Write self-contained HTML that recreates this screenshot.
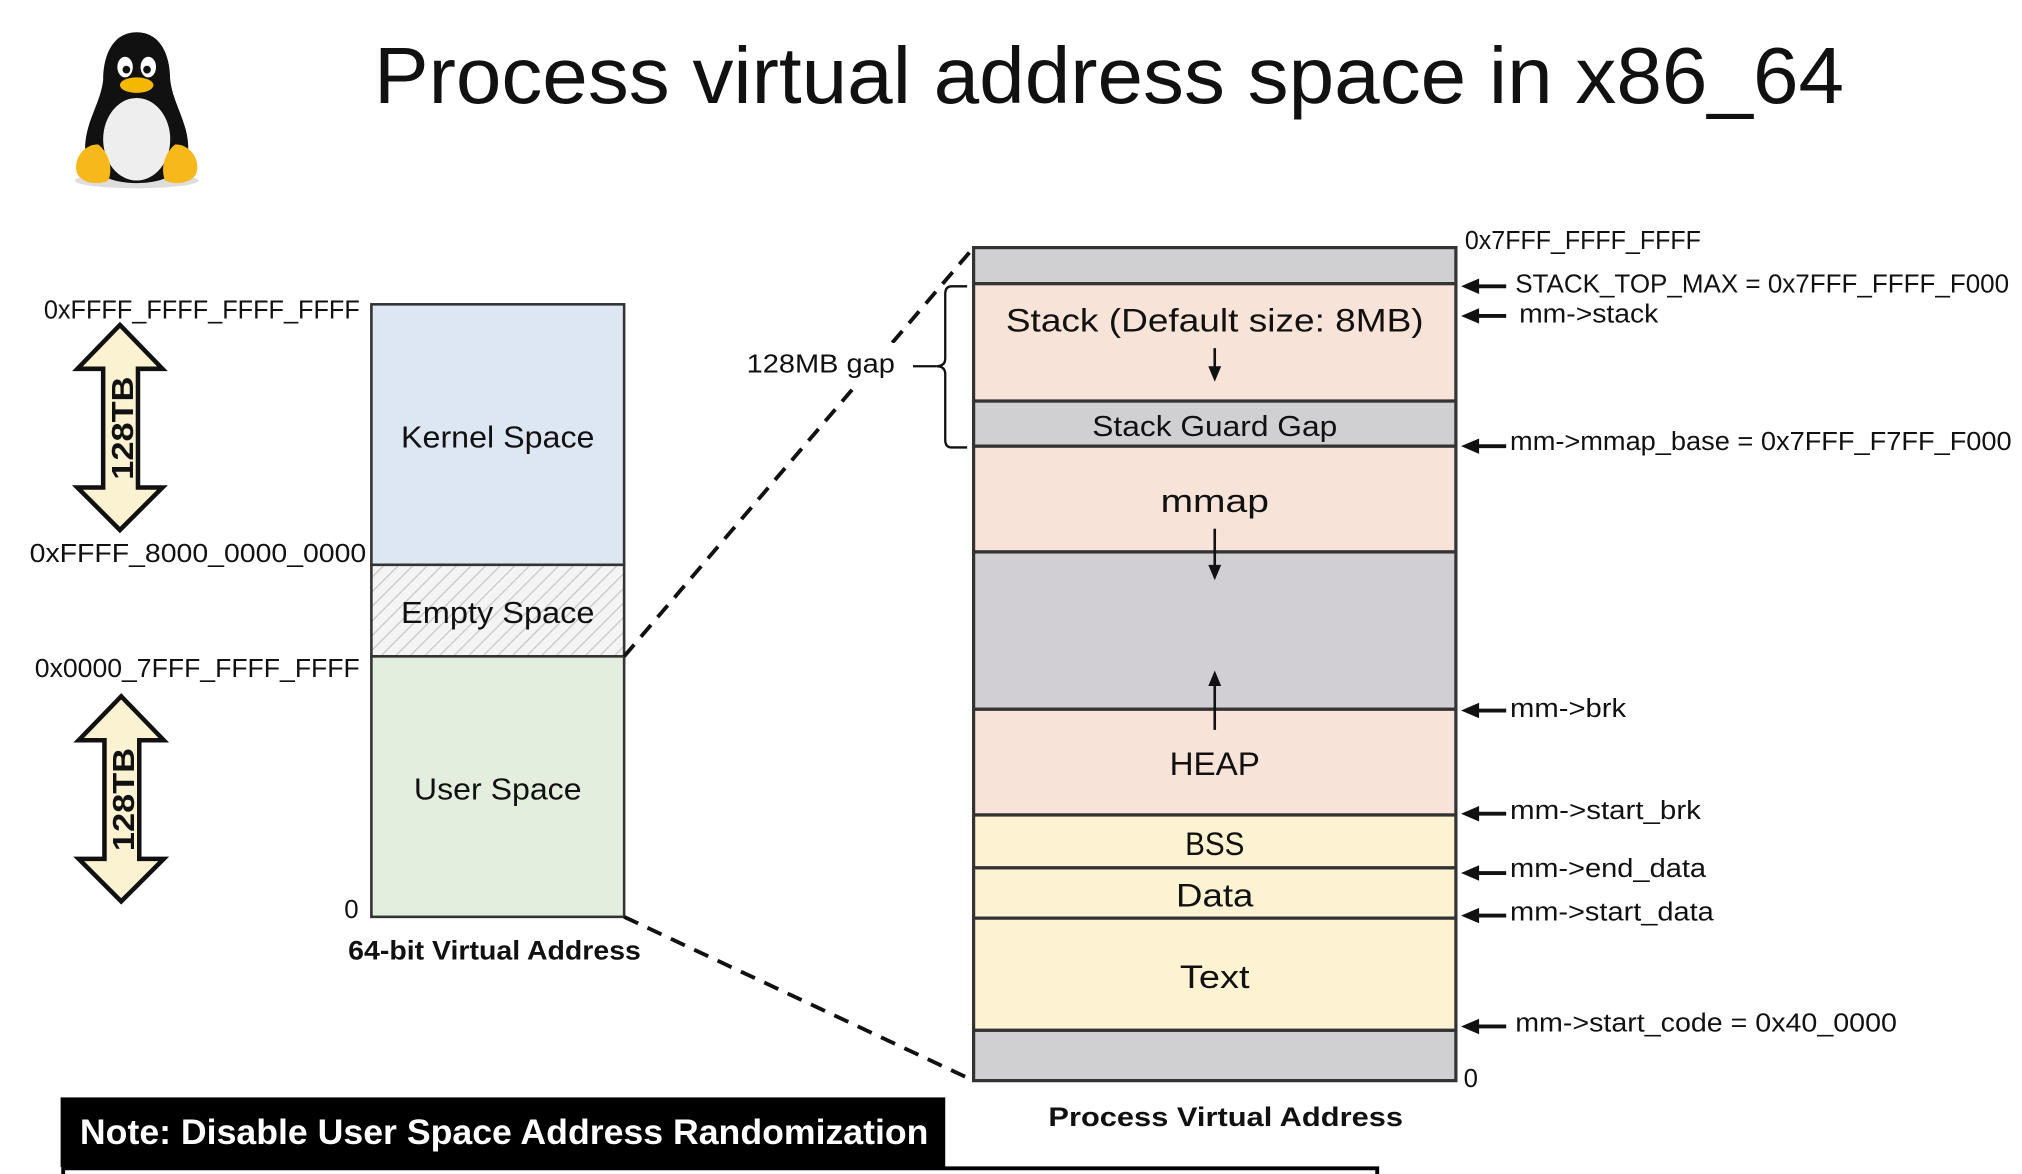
<!DOCTYPE html>
<html><head><meta charset="utf-8"><style>
html,body{margin:0;padding:0;background:#fff;}
svg{display:block;}
text{font-family:"Liberation Sans",sans-serif;fill:#111;}
</style></head><body>
<svg width="2022" height="1174" viewBox="0 0 1568 910.4" xmlns="http://www.w3.org/2000/svg">
<defs>
<pattern id="h" width="8" height="8" patternUnits="userSpaceOnUse" patternTransform="rotate(45)">
<rect width="8" height="8" fill="#f4f4f4"/><line x1="0" y1="0" x2="0" y2="8" stroke="#c8c8c8" stroke-width="2"/>
</pattern>
</defs>
<rect width="1568" height="911" fill="#fff"/>
<!-- penguin -->
<g>
<ellipse cx="106" cy="140" rx="48" ry="6" fill="#ddd"/>
<path d="M106,25 C88,25 80,42 80,62 C78,80 66,95 66,115 C66,132 82,142 106,142 C130,142 146,132 146,115 C146,95 134,80 132,62 C132,42 124,25 106,25 Z" fill="#111"/>
<ellipse cx="106" cy="108" rx="26" ry="32" fill="#eee"/>
<ellipse cx="97" cy="52" rx="6" ry="8" fill="#fff"/><ellipse cx="115" cy="52" rx="6" ry="8" fill="#fff"/>
<circle cx="98" cy="54" r="3" fill="#111"/><circle cx="114" cy="54" r="3" fill="#111"/>
<ellipse cx="106" cy="66" rx="13" ry="6" fill="#f5b800"/>
<path d="M60,135 C56,125 64,112 76,112 C84,118 88,130 84,140 C76,144 64,142 60,135 Z" fill="#f7b81c"/>
<path d="M152,135 C156,125 148,112 136,112 C128,118 124,130 128,140 C136,144 148,142 152,135 Z" fill="#f7b81c"/>
</g>
<text x="290" y="80" font-size="62" textLength="1140" lengthAdjust="spacingAndGlyphs">Process virtual address space in x86_64</text>

<!-- left box -->
<rect x="288" y="236" width="196" height="202" fill="#dde6f3" stroke="#333" stroke-width="2"/>
<rect x="288" y="438" width="196" height="71" fill="url(#h)" stroke="#333" stroke-width="2"/>
<rect x="288" y="509" width="196" height="202" fill="#e4eede" stroke="#333" stroke-width="2"/>
<text x="386" y="347" font-size="24" text-anchor="middle" textLength="150" lengthAdjust="spacingAndGlyphs">Kernel Space</text>
<text x="386" y="483" font-size="24" text-anchor="middle" textLength="150" lengthAdjust="spacingAndGlyphs">Empty Space</text>
<text x="386" y="620" font-size="24" text-anchor="middle" textLength="130" lengthAdjust="spacingAndGlyphs">User Space</text>
<g font-size="20">
<text x="34" y="247" textLength="245" lengthAdjust="spacingAndGlyphs">0xFFFF_FFFF_FFFF_FFFF</text>
<text x="23" y="436" textLength="261" lengthAdjust="spacingAndGlyphs">0xFFFF_8000_0000_0000</text>
<text x="27" y="525" textLength="252" lengthAdjust="spacingAndGlyphs">0x0000_7FFF_FFFF_FFFF</text>
<text x="267" y="712">0</text>
</g>
<text x="270" y="744" font-size="21" font-weight="bold" textLength="227" lengthAdjust="spacingAndGlyphs">64-bit Virtual Address</text>

<!-- double arrows -->
<g fill="#fbf2d2" stroke="#111" stroke-width="3.5" stroke-linejoin="miter">
<polygon points="93,252 126,286 107,286 107,378 126,378 93,411 60,378 80,378 80,286 60,286"/>
<polygon points="94,540 127,574 108,574 108,666 127,666 94,699 61,666 81,666 81,574 61,574"/>
</g>
<text transform="translate(103,332) rotate(-90)" font-size="24" font-weight="bold" text-anchor="middle" textLength="80" lengthAdjust="spacingAndGlyphs">128TB</text>
<text transform="translate(104,620) rotate(-90)" font-size="24" font-weight="bold" text-anchor="middle" textLength="80" lengthAdjust="spacingAndGlyphs">128TB</text>

<!-- dashed connectors -->
<line x1="484" y1="509" x2="755" y2="192" stroke="#111" stroke-width="3" stroke-dasharray="12,8"/>
<line x1="484" y1="711" x2="755" y2="838" stroke="#111" stroke-width="3" stroke-dasharray="12,8"/>

<!-- right box -->
<g stroke="#333" stroke-width="2.5">
<rect x="755" y="192" width="374" height="28" fill="#d0d0d2"/>
<rect x="755" y="220" width="374" height="91" fill="#f8e3d8"/>
<rect x="755" y="311" width="374" height="35" fill="#d0d0d2"/>
<rect x="755" y="346" width="374" height="82" fill="#f8e3d8"/>
<rect x="755" y="428" width="374" height="122" fill="#d1cfd3"/>
<rect x="755" y="550" width="374" height="82" fill="#f8e3d8"/>
<rect x="755" y="632" width="374" height="41" fill="#fdf3d2"/>
<rect x="755" y="673" width="374" height="39" fill="#fdf3d2"/>
<rect x="755" y="712" width="374" height="87" fill="#fdf3d2"/>
<rect x="755" y="799" width="374" height="39" fill="#d0d0d2"/>
</g>
<g font-size="25" text-anchor="middle">
<text x="942" y="257" textLength="324" lengthAdjust="spacingAndGlyphs">Stack (Default size: 8MB)</text>
<text x="942" y="338" font-size="22" textLength="190" lengthAdjust="spacingAndGlyphs">Stack Guard Gap</text>
<text x="942" y="397" textLength="84" lengthAdjust="spacingAndGlyphs">mmap</text>
<text x="942" y="601" textLength="70" lengthAdjust="spacingAndGlyphs">HEAP</text>
<text x="942" y="663" textLength="46" lengthAdjust="spacingAndGlyphs">BSS</text>
<text x="942" y="703" textLength="60" lengthAdjust="spacingAndGlyphs">Data</text>
<text x="942" y="766" textLength="54" lengthAdjust="spacingAndGlyphs">Text</text>
</g>
<g stroke="#111" stroke-width="2">
<line x1="942" y1="270" x2="942" y2="286"/>
<line x1="942" y1="410" x2="942" y2="440"/>
<line x1="942" y1="566" x2="942" y2="530"/>
</g>
<g fill="#111">
<polygon points="937,284 947,284 942,296"/>
<polygon points="937,438 947,438 942,450"/>
<polygon points="937,532 947,532 942,520"/>
</g>
<text x="813" y="873" font-size="21" font-weight="bold" textLength="275" lengthAdjust="spacingAndGlyphs">Process Virtual Address</text>

<!-- brace & 128MB gap -->
<path d="M750,222 L738,222 Q733,222 733,228 L733,278 Q733,284 726,284 Q733,284 733,290 L733,341 Q733,347 738,347 L750,347" fill="none" stroke="#111" stroke-width="1.8"/>
<line x1="708" y1="284" x2="726" y2="284" stroke="#111" stroke-width="1.8"/>
<rect x="574" y="266" width="126" height="32" fill="#fff"/>
<text x="579" y="289" font-size="20" textLength="115" lengthAdjust="spacingAndGlyphs">128MB gap</text>

<!-- right labels -->
<g stroke="#111" stroke-width="3">
<line x1="1168" y1="222" x2="1145" y2="222"/>
<line x1="1168" y1="245" x2="1145" y2="245"/>
<line x1="1168" y1="346" x2="1145" y2="346"/>
<line x1="1168" y1="551" x2="1145" y2="551"/>
<line x1="1168" y1="631" x2="1145" y2="631"/>
<line x1="1168" y1="677" x2="1145" y2="677"/>
<line x1="1168" y1="710" x2="1145" y2="710"/>
<line x1="1168" y1="796" x2="1145" y2="796"/>
</g>
<g fill="#111">
<polygon points="1133,222 1147,216 1147,228"/>
<polygon points="1133,245 1147,239 1147,251"/>
<polygon points="1133,346 1147,340 1147,352"/>
<polygon points="1133,551 1147,545 1147,557"/>
<polygon points="1133,631 1147,625 1147,637"/>
<polygon points="1133,677 1147,671 1147,683"/>
<polygon points="1133,710 1147,704 1147,716"/>
<polygon points="1133,796 1147,790 1147,802"/>
</g>
<g font-size="20">
<text x="1136" y="193" textLength="183" lengthAdjust="spacingAndGlyphs">0x7FFF_FFFF_FFFF</text>
<text x="1175" y="227" textLength="383" lengthAdjust="spacingAndGlyphs">STACK_TOP_MAX = 0x7FFF_FFFF_F000</text>
<text x="1178" y="250" textLength="108" lengthAdjust="spacingAndGlyphs">mm-&gt;stack</text>
<text x="1171" y="349" textLength="389" lengthAdjust="spacingAndGlyphs">mm-&gt;mmap_base = 0x7FFF_F7FF_F000</text>
<text x="1171" y="556" textLength="90" lengthAdjust="spacingAndGlyphs">mm-&gt;brk</text>
<text x="1171" y="635" textLength="148" lengthAdjust="spacingAndGlyphs">mm-&gt;start_brk</text>
<text x="1171" y="680" textLength="152" lengthAdjust="spacingAndGlyphs">mm-&gt;end_data</text>
<text x="1171" y="714" textLength="158" lengthAdjust="spacingAndGlyphs">mm-&gt;start_data</text>
<text x="1175" y="800" textLength="296" lengthAdjust="spacingAndGlyphs">mm-&gt;start_code = 0x40_0000</text>
<text x="1135" y="843">0</text>
</g>

<!-- note -->
<rect x="47" y="851" width="686" height="54" fill="#000"/>
<text x="62" y="887" font-size="27" font-weight="bold" style="fill:#fff" textLength="658" lengthAdjust="spacingAndGlyphs">Note: Disable User Space Address Randomization</text>
<path d="M49,915 L49,906 L1068,906 L1068,915" fill="none" stroke="#000" stroke-width="3"/>
</svg>
</body></html>
